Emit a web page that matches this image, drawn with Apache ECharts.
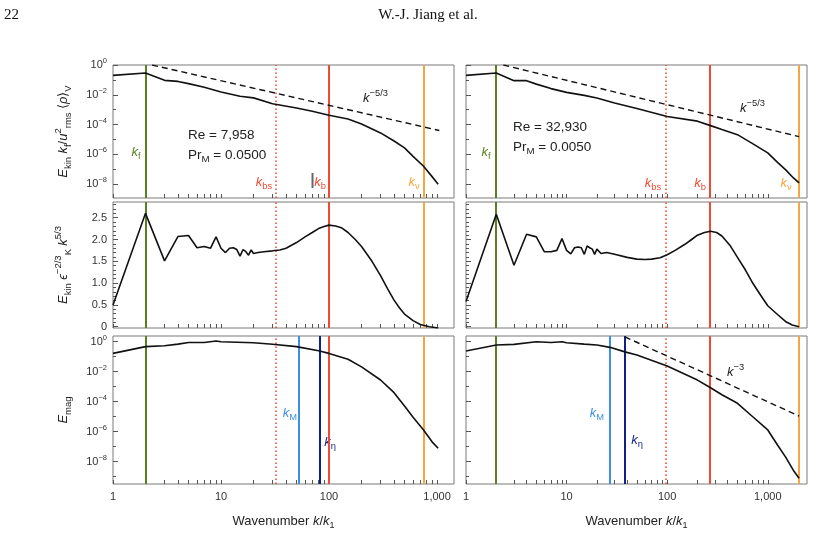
<!DOCTYPE html>
<html>
<head>
<meta charset="utf-8">
<script src="https://cdn.jsdelivr.net/npm/echarts@6/dist/echarts.min.js"></script>
<style>
html,body{margin:0;padding:0;background:#fff}
#chart{width:814px;height:534px}
</style>
</head>
<body>
<div id="chart"></div>
<script>
// 数据（k / k1 与各曲线取值）
const kinLeftK = [1, 2, 3, 4, 5, 7, 10, 15, 20, 30, 50, 70, 100, 150, 200, 300, 400, 500, 600, 750, 900, 1024];
const kinLeftE = [0.20, 0.29, 0.093, 0.079, 0.056, 0.032, 0.0155, 7.9e-3, 6.2e-3, 2.5e-3, 1.3e-3, 7.8e-4, 4.2e-4, 2.4e-4, 1.1e-4, 2.75e-5, 7.9e-6, 2.7e-6, 7.4e-7, 1.6e-7, 3.2e-8, 1.0e-8];
const kinRightK = [1, 2, 3, 4, 5, 7, 10, 15, 20, 30, 50, 100, 200, 270, 350, 500, 700, 1000, 1250, 1500, 1800, 2048];
const kinRightE = [0.20, 0.29, 0.089, 0.089, 0.052, 0.026, 0.0145, 9.1e-3, 6.0e-3, 2.8e-3, 1.2e-3, 3.5e-4, 1.7e-4, 8.5e-5, 4.6e-5, 2.1e-5, 5.5e-6, 1.26e-6, 2.9e-7, 9.5e-8, 2.6e-8, 1.2e-8];

const compLeftK = [1, 2, 3, 4, 5, 6, 7, 8, 9, 10, 11, 12, 13, 14, 15, 16, 17, 18, 19, 20, 22, 25, 30, 35, 40, 50, 60, 70, 80, 90, 100, 115, 130, 150, 175, 200, 250, 300, 350, 400, 450, 500, 600, 700, 850, 1024];
const compLeftV = [0.50, 2.60, 1.51, 2.07, 2.09, 1.81, 1.84, 1.80, 2.06, 1.80, 1.70, 1.80, 1.81, 1.77, 1.62, 1.77, 1.72, 1.64, 1.76, 1.68, 1.70, 1.72, 1.74, 1.76, 1.80, 1.93, 2.06, 2.16, 2.25, 2.30, 2.33, 2.31, 2.27, 2.16, 2.00, 1.84, 1.50, 1.17, 0.86, 0.61, 0.43, 0.29, 0.14, 0.05, 0.0, -0.03];
const compRightK = [1, 2, 3, 4, 5, 6, 7, 8, 9, 10, 11, 12, 13, 14, 15, 16, 17, 18, 19, 20, 22, 25, 30, 40, 50, 60, 70, 85, 100, 120, 150, 175, 200, 235, 270, 310, 350, 420, 500, 600, 700, 850, 1000, 1250, 1500, 1750, 2048];
const compRightV = [0.58, 2.58, 1.41, 2.12, 2.06, 1.72, 1.72, 1.75, 2.02, 1.75, 1.67, 1.81, 1.83, 1.81, 1.66, 1.85, 1.81, 1.78, 1.66, 1.78, 1.68, 1.70, 1.66, 1.59, 1.55, 1.54, 1.55, 1.58, 1.65, 1.75, 1.89, 2.00, 2.10, 2.16, 2.19, 2.16, 2.08, 1.87, 1.59, 1.30, 1.02, 0.72, 0.48, 0.28, 0.12, 0.04, 0.0];

const magLeftK = [1, 2, 3, 4, 5, 7, 9, 10, 20, 30, 50, 80, 100, 150, 200, 300, 400, 500, 600, 750, 900, 1024];
const magLeftE = [0.166, 0.47, 0.54, 0.69, 0.89, 0.89, 1.12, 1.0, 0.85, 0.68, 0.47, 0.25, 0.166, 0.068, 0.021, 2.8e-3, 4.0e-4, 5.1e-5, 9.1e-6, 1.3e-6, 2.1e-7, 7.8e-8];
const magRightK = [1, 2, 3, 5, 7, 9, 10, 15, 20, 27, 38, 50, 100, 200, 270, 350, 500, 700, 1000, 1250, 1500, 1800, 2048];
const magRightE = [0.24, 0.60, 0.66, 1.0, 0.89, 1.0, 0.85, 0.69, 0.60, 0.42, 0.21, 0.13, 0.024, 2.75e-3, 8.5e-4, 2.9e-4, 7.8e-5, 1.07e-5, 1.3e-6, 1.3e-7, 2.1e-8, 2.6e-9, 7.8e-10];

// 参考斜率线（两端点）
const slopeLeftK = [2.3, 1050];
const slopeLeftE = [1.0, 4.0e-5];
const slopeRightK = [2.35, 2048];
const slopeRightE = [1.0, 1.55e-5];
const slopeMagK = [38, 2048];
const slopeMagE = [2.1, 1.1e-5];

// 特征波数竖线
const markerKeys = ['kf', 'kbs', 'kb', 'knu', 'kM', 'keta'];
const markerLeft = [2, 32, 101, 760, 52, 81];
const markerRight = [2, 98, 264, 2030, 27, 38];

// 刻度
const xTickValues = [1, 10, 100, 1000];
const xTickLabels = ['1', '10', '100', '1,000'];
const yLogExponents = [0, -2, -4, -6, -8];
const yLinTicks = [0, 0.5, 1.0, 1.5, 2.0, 2.5];

const FONT = 'Liberation Sans, Arial, sans-serif';
const colors = {
	kf: '#5a7f22',
	kbs: '#ee4b32',
	kb: '#ee4b32',
	knu: '#f5a640',
	kM: '#3b8fe6',
	keta: '#111f88'
};
const lg = Math.log10;

const chart = echarts.init(document.getElementById('chart'));

const panels = [
	{ rect: [113, 65, 341, 133], xMax: 1436, yMin: -8.93, yMax: 0, log: true, k: kinLeftK, v: kinLeftE, sk: slopeLeftK, sv: slopeLeftE, marks: markerLeft, n: 4, yLabels: true, xLabels: false, yName: '{i|E}{sub|kin} {i|k}{sub|f}{n|/}{i|u}{sup|2}{sub|rms} {n|⟨}{i|ρ}{n|⟩}{sub|V}' },
	{ rect: [466, 65, 341, 133], xMax: 2455, yMin: -8.93, yMax: 0, log: true, k: kinRightK, v: kinRightE, sk: slopeRightK, sv: slopeRightE, marks: markerRight, n: 4, yLabels: false, xLabels: false },
	{ rect: [113, 202, 341, 126], xMax: 1436, yMin: -0.03, yMax: 2.86, log: false, k: compLeftK, v: compLeftV, marks: markerLeft, n: 4, yLabels: true, xLabels: false, yName: '{i|E}{sub|kin} {i|ϵ}{sup|−2/3}{sub|K} {i|k}{sup|5/3}' },
	{ rect: [466, 202, 341, 126], xMax: 2455, yMin: -0.03, yMax: 2.86, log: false, k: compRightK, v: compRightV, marks: markerRight, n: 4, yLabels: false, xLabels: false },
	{ rect: [113, 336, 341, 148], xMax: 1436, yMin: -9.49, yMax: 0.38, log: true, k: magLeftK, v: magLeftE, marks: markerLeft, n: 6, yLabels: true, xLabels: true, yName: '{i|E}{sub|mag}' },
	{ rect: [466, 336, 341, 148], xMax: 2455, yMin: -9.49, yMax: 0.38, log: true, k: magRightK, v: magRightE, sk: slopeMagK, sv: slopeMagE, marks: markerRight, n: 6, yLabels: false, xLabels: true }
];

const nameRich = {
	n: { fontFamily: FONT, fontSize: 13, color: '#222', lineHeight: 20 },
	i: { fontFamily: FONT, fontSize: 13, fontStyle: 'italic', color: '#222', lineHeight: 20 },
	sub: { fontFamily: FONT, fontSize: 9.5, color: '#222', verticalAlign: 'bottom' },
	sup: { fontFamily: FONT, fontSize: 9.5, color: '#222', verticalAlign: 'top' }
};
const labelRich = {
	b: { fontFamily: FONT, fontSize: 11, color: '#333', lineHeight: 16 },
	s: { fontFamily: FONT, fontSize: 7.5, color: '#333', verticalAlign: 'top' }
};

const option = {
	animation: false,
	backgroundColor: '#fff',
	grid: [],
	xAxis: [],
	yAxis: [],
	series: [],
	graphic: []
};

panels.forEach(function (p, i) {
	option.grid.push({
		left: p.rect[0], top: p.rect[1], width: p.rect[2], height: p.rect[3],
		show: true, borderColor: '#7a7a7a', borderWidth: 1, backgroundColor: 'transparent'
	});
	// x 轴刻度：十进位 + 2..9
	const xTicks = [];
	for (let d = 1; d <= 1000; d *= 10) {
		for (let m = 1; m <= 9; m++) {
			if (d * m < p.xMax) xTicks.push(lg(d * m));
		}
	}
	option.xAxis.push({
		gridIndex: i, type: 'value', position: 'bottom', min: 0, max: lg(p.xMax),
		axisLine: { show: false, onZero: false }, splitLine: { show: false },
		axisTick: { show: true, inside: true, length: 4, customValues: xTicks, lineStyle: { color: '#555' } },
		axisLabel: {
			show: p.xLabels, customValues: xTickValues.map(lg), margin: 7,
			fontFamily: FONT, fontSize: 11, color: '#333',
			formatter: function (v) { return xTickLabels[Math.round(v)]; }
		},
		name: p.xLabels ? 'Wavenumber {i|k}{n|/}{i|k}{sub|1}' : '',
		nameLocation: 'middle', nameGap: 28,
		nameTextStyle: { fontFamily: FONT, fontSize: 13, color: '#222', rich: {
			n: { fontFamily: FONT, fontSize: 13, color: '#222', lineHeight: 18 },
			i: { fontFamily: FONT, fontSize: 13, fontStyle: 'italic', color: '#222', lineHeight: 18 },
			sub: { fontFamily: FONT, fontSize: 9, color: '#222', verticalAlign: 'bottom' }
		} }
	});
	// y 轴
	let majorY, minorY, fmt;
	if (p.log) {
		majorY = yLogExponents.slice();
		minorY = [-1, -3, -5, -7, -9];
		fmt = function (v) {
			const e = Math.round(v);
			return '{b|10}{s|' + (e === 0 ? '0' : '−' + Math.abs(e)) + '}';
		};
	} else {
		majorY = yLinTicks.slice();
		minorY = [];
		for (let t = 1; t <= 28; t++) {
			if (t % 5 !== 0) minorY.push(t / 10);
		}
		fmt = function (v) { return '{b|' + (Math.abs(v) < 1e-9 ? '0' : v.toFixed(1)) + '}'; };
	}
	option.yAxis.push({
		gridIndex: i, type: 'value', position: 'left', min: p.yMin, max: p.yMax,
		axisLine: { show: false, onZero: false }, splitLine: { show: false },
		axisTick: { show: true, inside: true, length: 5, customValues: majorY, lineStyle: { color: '#555' } },
		axisLabel: { show: p.yLabels, customValues: majorY, margin: 6, formatter: fmt, rich: labelRich },
		name: p.yName || '', nameLocation: 'middle', nameRotate: 90, nameGap: 40,
		nameTextStyle: { rich: nameRich }
	});
	option.yAxis.push({
		gridIndex: i, type: 'value', position: 'left', min: p.yMin, max: p.yMax,
		axisLine: { show: false, onZero: false }, splitLine: { show: false }, axisLabel: { show: false },
		axisTick: { show: true, inside: true, length: 3, customValues: minorY, lineStyle: { color: '#555' } }
	});

	// 竖线
	const markData = [];
	for (let m = 0; m < p.n; m++) {
		const key = markerKeys[m];
		markData.push({
			xAxis: lg(p.marks[m]),
			lineStyle: {
				color: colors[key],
				width: key === 'kbs' ? 1.6 : 2,
				type: key === 'kbs' ? [1.5, 2.5] : 'solid'
			}
		});
	}
	option.series.push({
		type: 'line', xAxisIndex: i, yAxisIndex: 2 * i,
		data: p.k.map(function (k, j) { return [lg(k), p.log ? lg(p.v[j]) : p.v[j]]; }),
		showSymbol: false, symbol: 'none', silent: true, clip: true,
		lineStyle: { color: '#111', width: 1.6 },
		z: 3,
		markLine: {
			silent: true, symbol: ['none', 'none'], label: { show: false },
			emphasis: { disabled: true }, animation: false,
			data: markData, z: 2
		}
	});
	if (p.sk) {
		option.series.push({
			type: 'line', xAxisIndex: i, yAxisIndex: 2 * i,
			data: p.sk.map(function (k, j) { return [lg(k), lg(p.sv[j])]; }),
			showSymbol: false, symbol: 'none', silent: true,
			lineStyle: { color: '#111', width: 1.4, type: [6, 4] }, z: 3
		});
	}
});

// 文本标注
const txtRich = function (color, size) {
	return {
		n: { fontFamily: FONT, fontSize: size, fill: color, lineHeight: 18 },
		i: { fontFamily: FONT, fontSize: size, fontStyle: 'italic', fill: color, lineHeight: 18 },
		sub: { fontFamily: FONT, fontSize: size * 0.72, fill: color, verticalAlign: 'bottom' },
		sup: { fontFamily: FONT, fontSize: size * 0.72, fill: color, verticalAlign: 'top' }
	};
};
function addText(x, y, text, color, size, align) {
	option.graphic.push({
		type: 'text', x: x, y: y, silent: true,
		style: {
			text: text, rich: txtRich(color, size), fill: color,
			align: align || 'center', verticalAlign: 'middle'
		}
	});
}
const labelTexts = {
	kf: '{i|k}{sub|f}', kbs: '{i|k}{sub|bs}', kb: '{i|k}{sub|b}', knu: '{i|k}{sub|ν}',
	kM: '{i|k}{sub|M}', keta: '{i|k}{sub|η}'
};
// 上排
addText(136, 152, labelTexts.kf, colors.kf, 13);
addText(264, 182, labelTexts.kbs, colors.kbs, 13);
addText(320, 182, labelTexts.kb, colors.kb, 13);
addText(414, 182, labelTexts.knu, colors.knu, 13);
addText(486, 152, labelTexts.kf, colors.kf, 13);
addText(653, 183, labelTexts.kbs, colors.kbs, 13);
addText(700, 183, labelTexts.kb, colors.kb, 13);
addText(786, 183, labelTexts.knu, colors.knu, 13);
addText(363, 98, '{i|k}{sup|−5/3}', '#222', 13, 'left');
addText(740, 108, '{i|k}{sup|−5/3}', '#222', 13, 'left');
addText(188, 135, '{n|Re = 7,958}', '#222', 13.5, 'left');
addText(188, 155, '{n|Pr}{sub|M}{n| = 0.0500}', '#222', 13.5, 'left');
addText(513, 127, '{n|Re = 32,930}', '#222', 13.5, 'left');
addText(513, 147, '{n|Pr}{sub|M}{n| = 0.0050}', '#222', 13.5, 'left');
// 下排
addText(290, 413, labelTexts.kM, colors.kM, 13);
addText(330, 442, labelTexts.keta, colors.keta, 13);
addText(597, 413, labelTexts.kM, colors.kM, 13);
addText(637, 440, labelTexts.keta, colors.keta, 13);
addText(727, 372, '{i|k}{sup|−3}', '#222', 13, 'left');
// 左上 k_b 前的小竖条
option.graphic.push({
	type: 'line', silent: true,
	shape: { x1: 312.5, y1: 173, x2: 312.5, y2: 188 },
	style: { stroke: '#666', lineWidth: 2 }
});
// 页眉
option.graphic.push({
	type: 'text', x: 4, y: 15, silent: true,
	style: { text: '22', fontFamily: 'Liberation Serif, serif', fontSize: 15, fill: '#111', verticalAlign: 'middle' }
});
option.graphic.push({
	type: 'text', x: 428, y: 15, silent: true,
	style: { text: 'W.-J. Jiang et al.', fontFamily: 'Liberation Serif, serif', fontSize: 15, fill: '#111', align: 'center', verticalAlign: 'middle' }
});

chart.setOption(option);
window.onresize = chart.resize;
</script>
</body>
</html>
